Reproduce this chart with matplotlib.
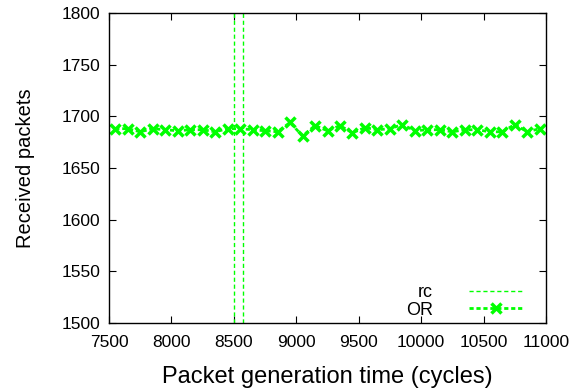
import matplotlib
matplotlib.use('Agg')
import matplotlib.pyplot as plt

plt.rcParams['font.family'] = ['Liberation Sans', 'DejaVu Sans']

# OR series: packet generation time (cycles) vs received packets
gen_time = list(range(7550, 11000, 100))
received = [1688, 1688, 1685, 1688, 1687, 1686, 1687, 1687, 1685, 1688,
            1688, 1687, 1686, 1685, 1694, 1681, 1691, 1686, 1691, 1684,
            1689, 1687, 1688, 1692, 1686, 1687, 1687, 1685, 1687, 1687,
            1685, 1685, 1692, 1685, 1688]

# rc vertical markers
rc_x = [8500, 8570]

green = '#00ff00'

fig = plt.figure(figsize=(5.83, 3.9), dpi=100)
ax = fig.add_axes([0.187, 0.172, 0.7495, 0.7947])

for i, x in enumerate(rc_x):
    ax.plot([x, x], [1500, 1800], color=green, lw=1, dashes=(3, 2),
            label='rc' if i == 0 else None)

ax.plot(gen_time, received, color=green, lw=2, linestyle=(0, (1.5, 1)),
        marker='x', markersize=7, markeredgewidth=2.5, label='OR')

ax.set_xlim(7500, 11000)
ax.set_ylim(1500, 1800)
ax.set_xticks(range(7500, 11001, 500))
ax.set_yticks(range(1500, 1801, 50))
ax.tick_params(direction='in', top=True, right=True, labelsize=12.5, length=5)
ax.tick_params(axis='x', pad=9)
ax.tick_params(axis='y', pad=6)
for s in ax.spines.values():
    s.set_linewidth(1)

ax.set_xlabel('Packet generation time (cycles)', fontsize=17, labelpad=11)
ax.set_ylabel('Received packets', fontsize=14.5, labelpad=19)

ax.legend(loc='lower right', frameon=False, markerfirst=False, fontsize=13,
          handlelength=3.0, borderaxespad=0.0, labelspacing=0.05,
          handletextpad=2.0, bbox_to_anchor=(0.965, -0.01))

fig.savefig('out.png', dpi=100)
